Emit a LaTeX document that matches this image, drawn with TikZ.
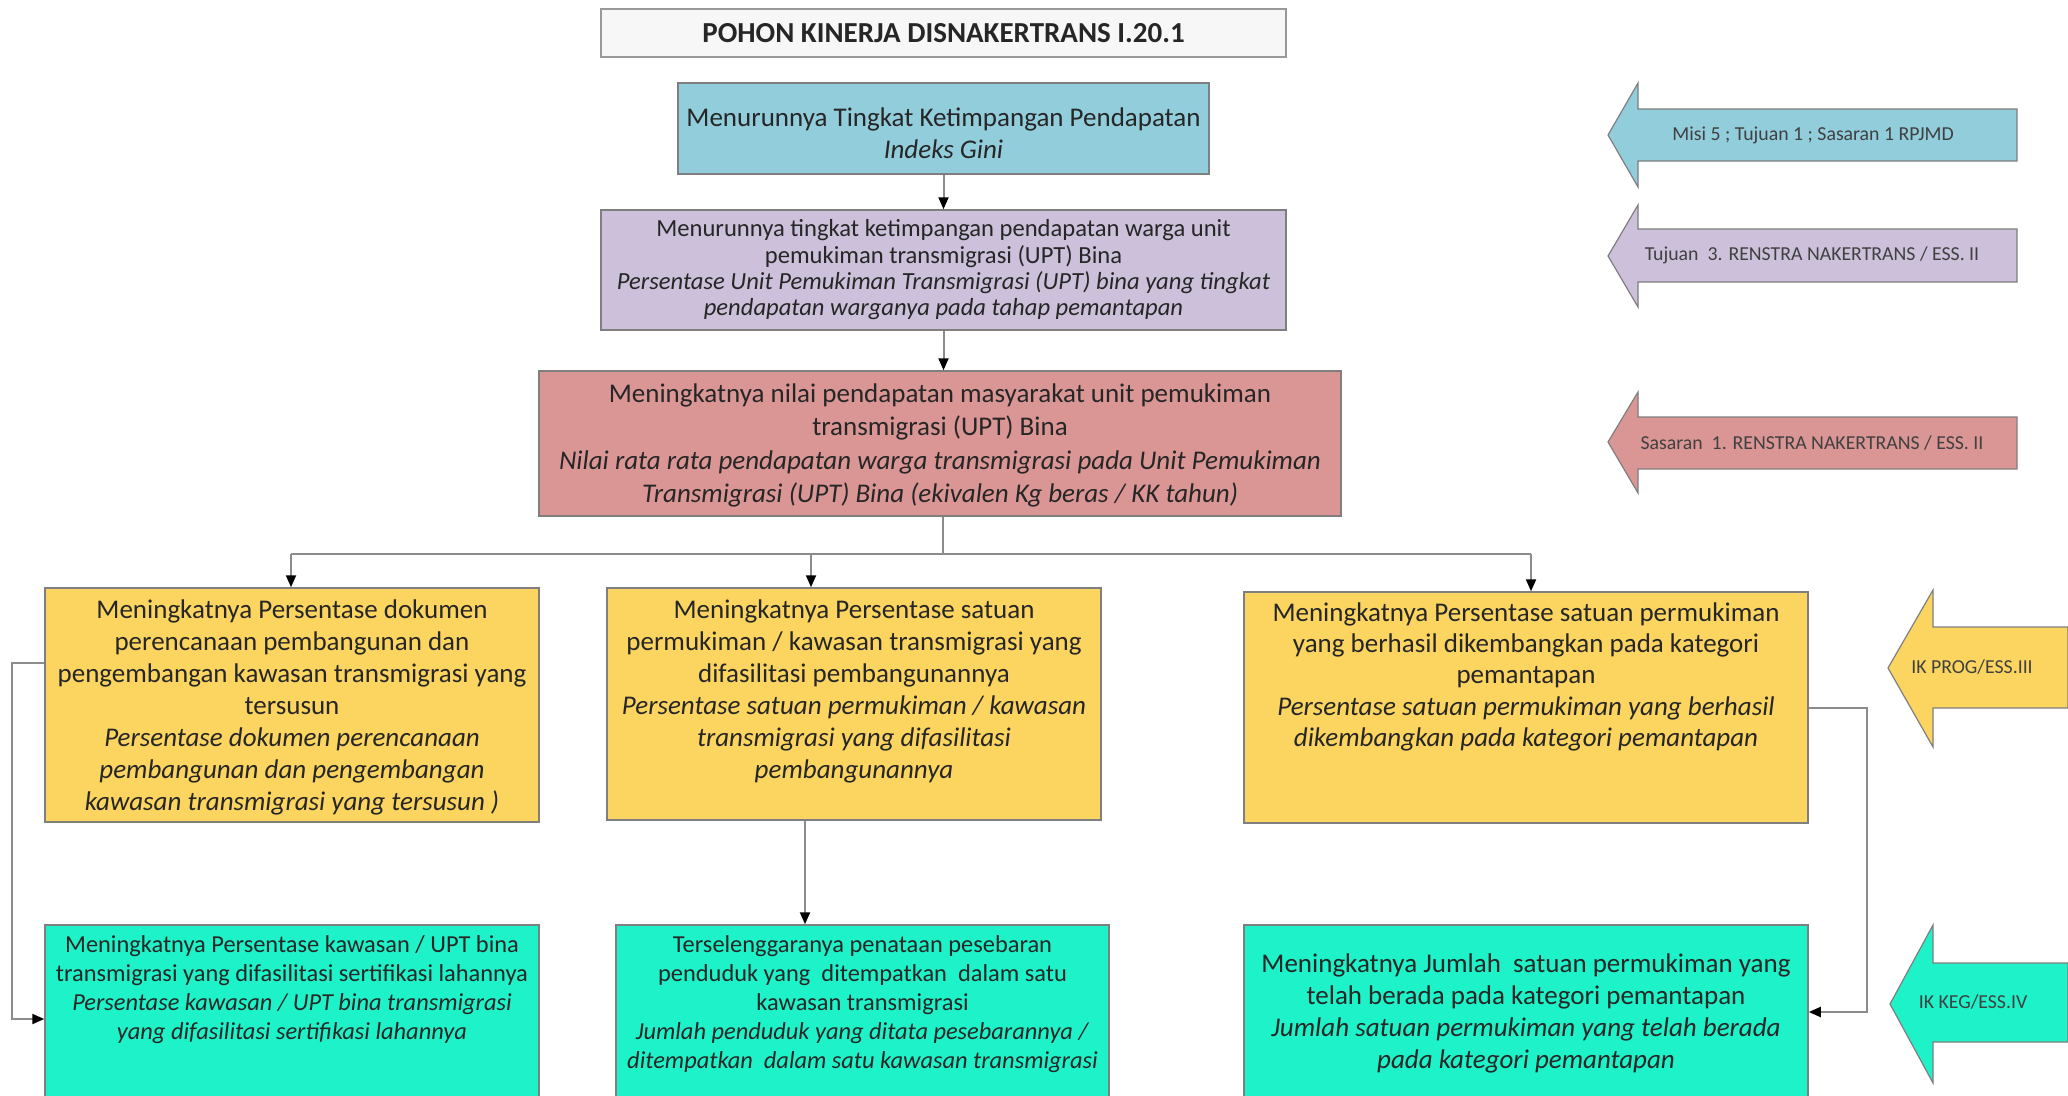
\documentclass[tikz,border=0pt]{standalone}
\usepackage{fontspec}
\setmainfont{Carlito}
\usetikzlibrary{arrows.meta,calc}
\definecolor{cblue}{HTML}{92CDDC}
\definecolor{clav}{HTML}{CCC0DA}
\definecolor{cpink}{HTML}{DA9694}
\definecolor{cyel}{HTML}{FCD560}
\definecolor{ccyan}{HTML}{1EF2C8}
\definecolor{cedge}{HTML}{7F7F7F}
\definecolor{cline}{HTML}{8C8C8C}
\tikzset{
  box/.style={draw=cedge, line width=1.5pt, rectangle, inner sep=0pt},
  txt/.style={align=center, inner sep=0pt, text=black!85},
  fbig/.style={font=\fontsize{27}{32}\selectfont},
  fbigb/.style={font=\fontsize{27}{33.5}\selectfont},
  fmid/.style={font=\fontsize{24.6}{26.3}\selectfont},
  fsml/.style={font=\fontsize{24.4}{29}\selectfont},
  flab/.style={font=\fontsize{19.8}{22}\selectfont, text=black!75},
  conn/.style={draw=cline, line width=2pt},
  arr/.style={conn, -{Triangle[length=12pt,width=10pt,color=black]}},
  barrow/.style={draw=cedge, line width=1.2pt, line join=miter},
}
\begin{document}
\begin{tikzpicture}[x=1pt,y=-1pt]
\useasboundingbox (0,0) rectangle (2068,1095);
\fill[white] (0,0) rectangle (2068,1095);

% title
\node[box, draw=cedge!80, fill=gray!6, minimum width=685pt, minimum height=48pt] (title) at (943.5,33) {};
\node[txt, font=\fontsize{29}{34}\selectfont\bfseries] (titletxt) at (title.center) {POHON KINERJA DISNAKERTRANS I.20.1};

% level 1
\node[box, fill=cblue, minimum width=531pt, minimum height=91pt] (b1) at (943.5,128.5) {};
\node[txt, fbig] (t1) at ($(b1.center)+(0,5)$) {Menurunnya Tingkat Ketimpangan Pendapatan\\\textit{Indeks Gini}};

% level 2
\node[box, fill=clav, minimum width=685pt, minimum height=120pt] (b2) at (943.5,270) {};
\node[txt, fmid] (t2) at (b2.center) {Menurunnya tingkat ketimpangan pendapatan warga unit\\pemukiman transmigrasi (UPT) Bina\\\textit{Persentase Unit Pemukiman Transmigrasi (UPT) bina yang tingkat}\\\textit{pendapatan warganya pada tahap pemantapan}};

% level 3
\node[box, fill=cpink, minimum width=802pt, minimum height=145pt] (b3) at (940,443.5) {};
\node[txt, fbigb] (t3) at ($(b3.center)+(0,2)$) {Meningkatnya nilai pendapatan masyarakat unit pemukiman\\transmigrasi (UPT) Bina\\\textit{Nilai rata rata pendapatan warga transmigrasi pada Unit Pemukiman}\\\textit{Transmigrasi (UPT) Bina (ekivalen Kg beras / KK tahun)}};

% level 4
\node[box, fill=cyel, minimum width=494pt, minimum height=234pt] (b4) at (292,705) {};
\node[txt, fbig, anchor=north] (t4) at ($(b4.north)+(0,12)$) {Meningkatnya Persentase dokumen\\perencanaan pembangunan dan\\pengembangan kawasan transmigrasi yang\\tersusun\\\textit{Persentase dokumen perencanaan}\\\textit{pembangunan dan pengembangan}\\\textit{kawasan transmigrasi yang tersusun )}};

\node[box, fill=cyel, minimum width=494pt, minimum height=232pt] (b5) at (854,704) {};
\node[txt, fbig, anchor=north] (t5) at ($(b5.north)+(0,12)$) {Meningkatnya Persentase satuan\\permukiman / kawasan transmigrasi yang\\difasilitasi pembangunannya\\\textit{Persentase satuan permukiman / kawasan}\\\textit{transmigrasi yang difasilitasi}\\\textit{pembangunannya}};

\node[box, fill=cyel, minimum width=564pt, minimum height=231pt] (b6) at (1526,707.5) {};
\node[txt, font=\fontsize{27}{31.3}\selectfont, anchor=north] (t6) at ($(b6.north)+(0,11)$) {Meningkatnya Persentase satuan permukiman\\yang berhasil dikembangkan pada kategori\\pemantapan\\\textit{Persentase satuan permukiman yang berhasil}\\\textit{dikembangkan pada kategori pemantapan}};

% level 5
\node[box, fill=ccyan, minimum width=494pt, minimum height=175pt] (b7) at (292,1012.5) {};
\node[txt, fsml, anchor=north] (t7) at ($(b7.north)+(0,11)$) {Meningkatnya Persentase kawasan / UPT bina\\transmigrasi yang difasilitasi sertifikasi lahannya\\\textit{Persentase kawasan / UPT bina transmigrasi}\\\textit{yang difasilitasi sertifikasi lahannya}};

\node[box, fill=ccyan, minimum width=493pt, minimum height=175pt] (b8) at (862.5,1012.5) {};
\node[txt, fsml, anchor=north] (t8) at ($(b8.north)+(0,11)$) {Terselenggaranya penataan pesebaran\\penduduk yang\ \ ditempatkan\ \ dalam satu\\kawasan transmigrasi\\\textit{Jumlah penduduk yang ditata pesebarannya /}\\\textit{ditempatkan\ \ dalam satu kawasan transmigrasi}};

\node[box, fill=ccyan, minimum width=564pt, minimum height=175pt] (b9) at (1526,1012.5) {};
\node[txt, fbig, anchor=north] (t9) at ($(b9.north)+(0,29)$) {Meningkatnya Jumlah\ \ satuan permukiman yang\\telah berada pada kategori pemantapan\\\textit{Jumlah satuan permukiman yang telah berada}\\\textit{pada kategori pemantapan}};

% connectors
\draw[arr] (b1.south) -- (b2.north);
\draw[arr] (b2.south) -- (b2.south |- b3.north);
\coordinate (j) at (943,554);
\coordinate (jl) at (291,554);
\coordinate (jm) at (811,554);
\coordinate (jr) at (1531,554);
\draw[conn] (b3.south -| j) -- (j);
\draw[conn] (jl) -- (jr);
\draw[arr] (jl) -- (b4.north -| jl);
\draw[arr] (jm) -- (b5.north -| jm);
\draw[arr] (jr) -- (b6.north -| jr);
\draw[arr] (b5.south -| 805,0) -- (b8.north -| 805,0);
\coordinate (lt) at (12,663);
\coordinate (lb) at (12,1019);
\draw[arr] (b4.west |- lt) -- (lt) -- (lb) -- (b7.west |- lb);
\coordinate (rt) at (1867,708);
\coordinate (rb) at (1867,1012);
\draw[arr] (b6.east |- rt) -- (rt) -- (rb) -- (b9.east |- rb);

% side block arrows
\filldraw[barrow, fill=cblue] (1608,135) -- (1638,83) -- (1638,109) -- (2017,109) -- (2017,161) -- (1638,161) -- (1638,187) -- cycle;
\node[txt, flab] (la) at (1813,135) {Misi 5 ; Tujuan 1 ; Sasaran 1 RPJMD};
\filldraw[barrow, fill=clav] (1608,256) -- (1638,205) -- (1638,229) -- (2017,229) -- (2017,282) -- (1638,282) -- (1638,307) -- cycle;
\node[txt, flab] (lb2) at (1812,255) {Tujuan\ \ 3. RENSTRA NAKERTRANS / ESS. II};
\filldraw[barrow, fill=cpink] (1608,442) -- (1638,392) -- (1638,417) -- (2017,417) -- (2017,469) -- (1638,469) -- (1638,493) -- cycle;
\node[txt, flab] (lc) at (1812,443) {Sasaran\ \ 1. RENSTRA NAKERTRANS / ESS. II};
\filldraw[barrow, fill=cyel] (1888,668) -- (1933,590) -- (1933,627) -- (2068,627) -- (2068,708) -- (1933,708) -- (1933,747) -- cycle;
\node[txt, flab] (ld) at (1972,667) {IK PROG/ESS.III};
\filldraw[barrow, fill=ccyan] (1890,1004) -- (1933,925) -- (1933,963) -- (2068,963) -- (2068,1042) -- (1933,1042) -- (1933,1083) -- cycle;
\node[txt, flab] (le) at (1973,1002) {IK KEG/ESS.IV};
\end{tikzpicture}
\end{document}
